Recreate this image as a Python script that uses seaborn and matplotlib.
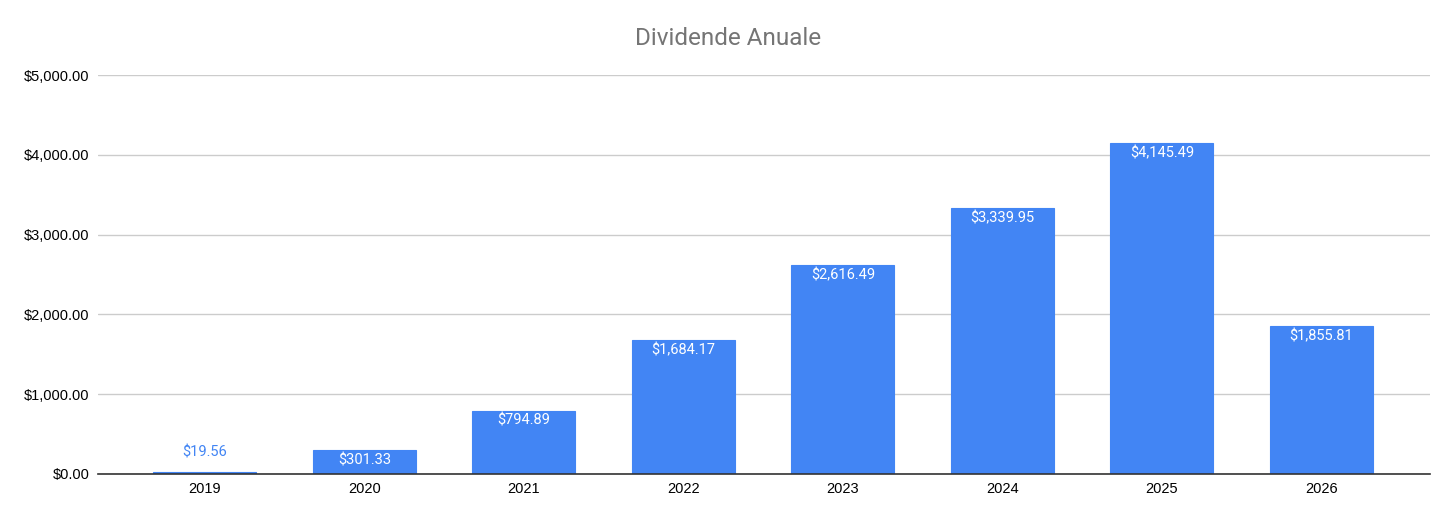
import matplotlib
matplotlib.use("Agg")
import matplotlib.pyplot as plt
import seaborn as sns
import pandas as pd

# ─── Data ────────────────────────────────────────────────
years = ["2019", "2020", "2021", "2022", "2023", "2024", "2025", "2026"]
dividends = [19.56, 301.33, 794.89, 1684.17, 2616.49, 3339.95, 4145.49, 1855.81]
y_ticks = [0, 1000, 2000, 3000, 4000, 5000]

BLUE = "#4285F4"

sns.set_theme(style="white")
plt.rcParams["font.family"] = ["Liberation Sans", "DejaVu Sans"]

df = pd.DataFrame({"year": years, "dividend": dividends})

fig = plt.figure(figsize=(14.56, 5.22), dpi=100)
ax = fig.add_axes([0.0673, 0.092, 0.9147, 0.764])

sns.barplot(data=df, x="year", y="dividend", color=BLUE, saturation=1,
            width=0.645, ax=ax, edgecolor=BLUE, linewidth=0.8)

ax.set_xlim(-0.67, 7.68)
ax.set_ylim(0, 5000)
ax.set_yticks(y_ticks)
ax.set_yticklabels([f"${v:,.2f}" for v in y_ticks])
ax.yaxis.grid(True, color="#cccccc", linewidth=1)
ax.set_axisbelow(True)
for s in ["top", "right", "left"]:
    ax.spines[s].set_visible(False)
ax.spines["bottom"].set_color("#333333")
ax.spines["bottom"].set_linewidth(1.2)
ax.tick_params(axis="both", length=0, labelsize=10.5, colors="#000000")
ax.tick_params(axis="x", pad=6)
ax.tick_params(axis="y", pad=6)
ax.set_xlabel("")
ax.set_ylabel("")

# Data labels: inside the bar in white, above small bars in blue
for i, v in enumerate(dividends):
    txt = f"${v:,.2f}"
    if v < 200:
        ax.text(i, v + 250, txt, ha="center", va="center", color=BLUE,
                fontsize=10.5, family=["Roboto", "DejaVu Sans"])
    else:
        ax.text(i, v - 130, txt, ha="center", va="center", color="white",
                fontsize=10.5, family=["Roboto", "DejaVu Sans"])

fig.text(0.5, 0.927, "Dividende Anuale", ha="center", va="center",
         fontsize=17.5, color="#757575", family=["Roboto", "DejaVu Sans"])

fig.savefig("out.png", dpi=100)
